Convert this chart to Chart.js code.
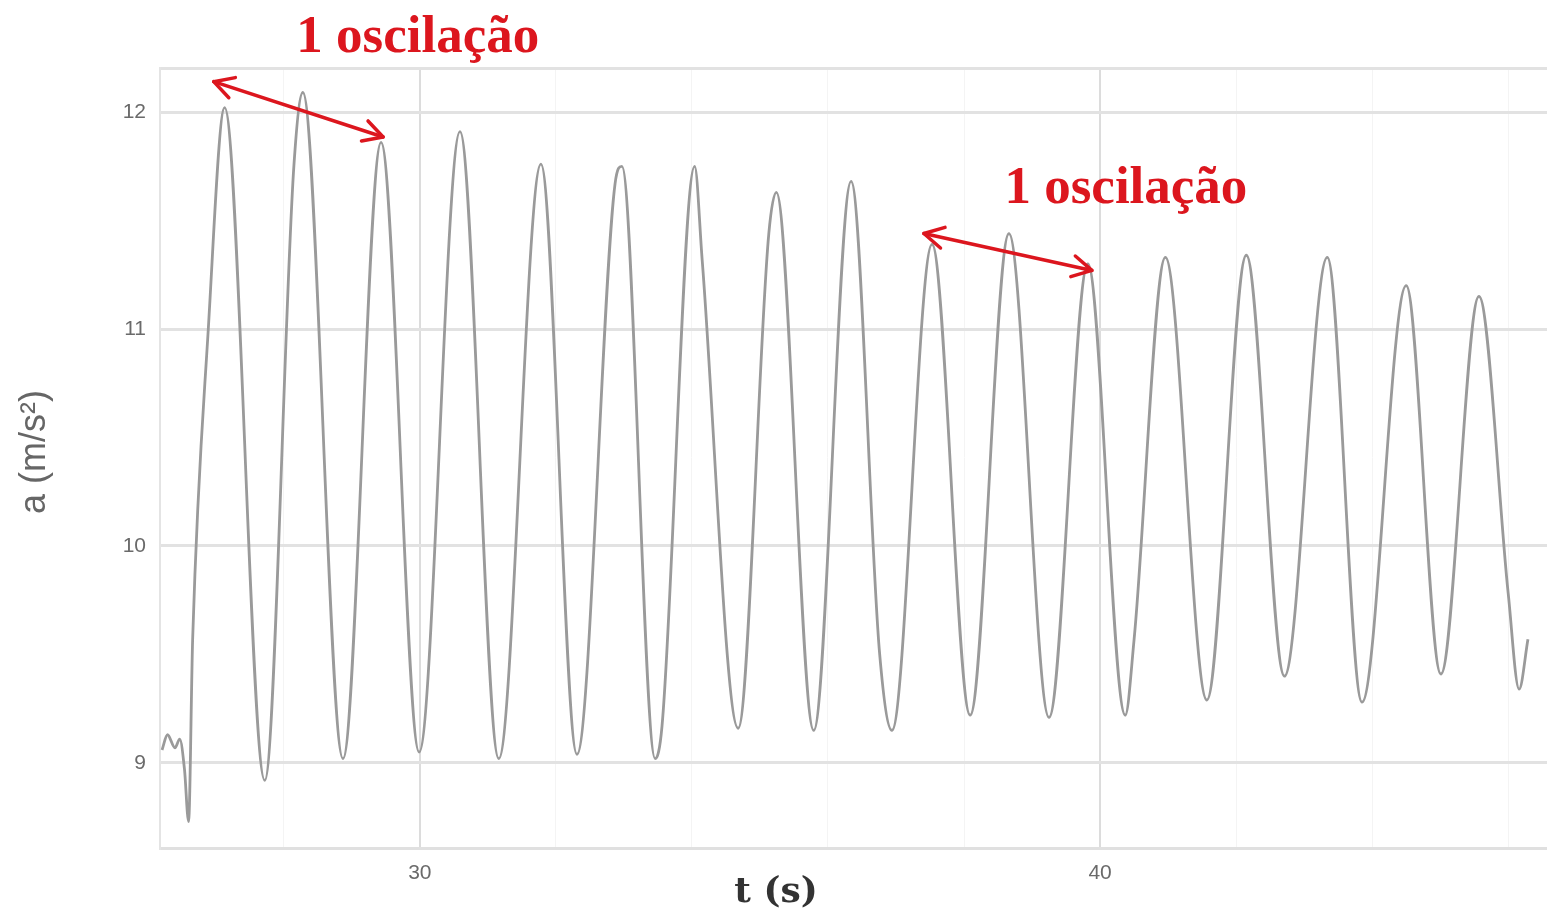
<!DOCTYPE html>
<html>
<head>
<meta charset="utf-8">
<script src="https://cdn.jsdelivr.net/npm/chart.js@4.4.0/dist/chart.umd.min.js"></script>
<style>
html,body{margin:0;padding:0;background:#fff;}
#wrap{width:1547px;height:911px;position:relative;}
</style>
</head>
<body>
<div id="wrap"><canvas id="c"></canvas></div>
<script>
// ---- data ----
const times = [26.21, 26.29, 26.40, 26.47, 26.54, 26.60, 26.66, 26.89, 27.13, 27.72, 28.15, 28.28, 28.87, 29.43, 29.99,
  30.59, 31.16, 31.78, 32.31, 32.87, 32.97, 33.46, 33.56, 34.04, 34.15, 34.68, 35.13, 35.24, 35.79, 36.34, 36.76, 36.94,
  37.53, 38.09, 38.66, 39.25, 39.82, 40.37, 40.50, 40.96, 41.57, 42.15, 42.71, 43.34, 43.85, 44.50, 45.01, 45.57,
  46.00, 46.16, 46.29];
const accel = [9.06, 9.13, 9.07, 9.11, 8.97, 8.73, 9.57, 11.00, 12.02, 8.92, 11.76, 12.09, 9.02, 11.86, 9.05,
  11.91, 9.02, 11.76, 9.04, 11.67, 11.75, 9.02, 9.17, 11.75, 11.32, 9.16, 11.44, 11.63, 9.15, 11.68, 9.50, 9.15,
  11.39, 9.22, 11.44, 9.21, 11.30, 9.22, 9.57, 11.33, 9.29, 11.34, 9.40, 11.33, 9.28, 11.20, 9.41, 11.15,
  9.78, 9.34, 9.57];
const xTickValues = [28, 30, 32, 34, 36, 38, 40, 42, 44, 46];
const xLabelled = [30, 40];
const yTickValues = [9, 10, 11, 12];
const xTitle = 't (s)';
const yTitle = 'a (m/s²)';
const noteText = '1 oscilação';

// annotation anchors in data units
const arrows = [
  { from: [26.97, 12.14], to: [29.46, 11.885] },
  { from: [37.41, 11.44], to: [39.88, 11.27] }
];
const notes = [ { x: 29.97, y: 12.276 }, { x: 40.38, y: 11.58 } ];

const X_MIN = 26.18, X_MAX = 46.57, Y_MIN = 8.608, Y_MAX = 12.203;
const RED = '#dc161e';

const points = times.map((t, i) => ({ x: t, y: accel[i] }));

const overlay = {
  id: 'overlay',
  afterDraw(chart) {
    const { ctx, scales: { x, y } } = chart;
    // y title
    ctx.save();
    ctx.fillStyle = '#666';
    ctx.font = '36px "Liberation Sans"';
    ctx.textAlign = 'center';
    ctx.textBaseline = 'middle';
    ctx.translate(35, 452);
    ctx.rotate(-Math.PI / 2);
    ctx.fillText(yTitle, 0, 0);
    ctx.restore();
    // x title
    ctx.save();
    ctx.fillStyle = '#333';
    ctx.font = 'bold 36px "DejaVu Serif"';
    ctx.textAlign = 'center';
    ctx.textBaseline = 'alphabetic';
    ctx.fillText(xTitle, 776, 902);
    ctx.restore();
    // notes
    ctx.save();
    ctx.fillStyle = RED;
    ctx.font = 'bold 53px "Liberation Serif"';
    ctx.textAlign = 'center';
    ctx.textBaseline = 'alphabetic';
    notes.forEach(n => ctx.fillText(noteText, x.getPixelForValue(n.x), y.getPixelForValue(n.y)));
    ctx.restore();
    // arrows
    ctx.save();
    ctx.strokeStyle = RED;
    ctx.lineWidth = 3.5;
    ctx.lineCap = 'round';
    ctx.lineJoin = 'round';
    arrows.forEach(a => {
      const x1 = x.getPixelForValue(a.from[0]), y1 = y.getPixelForValue(a.from[1]);
      const x2 = x.getPixelForValue(a.to[0]), y2 = y.getPixelForValue(a.to[1]);
      ctx.beginPath(); ctx.moveTo(x1, y1); ctx.lineTo(x2, y2); ctx.stroke();
      const ang = Math.atan2(y2 - y1, x2 - x1);
      const L = 22, sp = 0.5;
      [[x1, y1, ang], [x2, y2, ang + Math.PI]].forEach(([px, py, an]) => {
        ctx.beginPath();
        ctx.moveTo(px + L * Math.cos(an - sp), py + L * Math.sin(an - sp));
        ctx.lineTo(px, py);
        ctx.lineTo(px + L * Math.cos(an + sp), py + L * Math.sin(an + sp));
        ctx.stroke();
      });
    });
    ctx.restore();
  }
};

new Chart(document.getElementById('c'), {
  type: 'line',
  data: {
    datasets: [{
      data: points,
      borderColor: '#9a9a9a',
      borderWidth: 2.8,
      pointRadius: 0,
      cubicInterpolationMode: 'monotone',
      fill: false
    }]
  },
  options: {
    responsive: true,
    maintainAspectRatio: false,
    animation: false,
    layout: { padding: { top: 68, right: 0, bottom: 0, left: 0 } },
    plugins: { legend: { display: false }, tooltip: { enabled: false } },
    scales: {
      x: {
        type: 'linear',
        min: X_MIN, max: X_MAX,
        afterFit(s) { s.height = 63; },
        afterBuildTicks(s) { s.ticks = xTickValues.map(v => ({ value: v })); },
        ticks: {
          autoSkip: false, maxRotation: 0,
          padding: 13,
          color: '#6a6a6a',
          font: { family: 'Liberation Sans', size: 21 },
          callback: v => xLabelled.includes(v) ? String(v) : ''
        },
        grid: {
          drawTicks: false,
          color: c => xLabelled.includes(c.tick && c.tick.value) ? '#dcdcdc' : '#f4f4f4',
          lineWidth: c => xLabelled.includes(c.tick && c.tick.value) ? 2 : 1
        },
        border: { display: true, color: '#e0e0e0', width: 3 }
      },
      y: {
        type: 'linear',
        min: Y_MIN, max: Y_MAX,
        afterFit(s) { s.width = 160; },
        afterBuildTicks(s) { s.ticks = yTickValues.concat([Y_MAX]).map(v => ({ value: v })); },
        ticks: {
          autoSkip: false,
          padding: 14,
          color: '#6a6a6a',
          font: { family: 'Liberation Sans', size: 21 },
          callback: v => yTickValues.includes(v) ? String(v) : ''
        },
        grid: {
          drawTicks: false,
          color: '#e2e2e2',
          lineWidth: 3
        },
        border: { display: true, color: '#e4e4e4', width: 2 }
      }
    }
  },
  plugins: [overlay]
});
</script>
</body>
</html>
